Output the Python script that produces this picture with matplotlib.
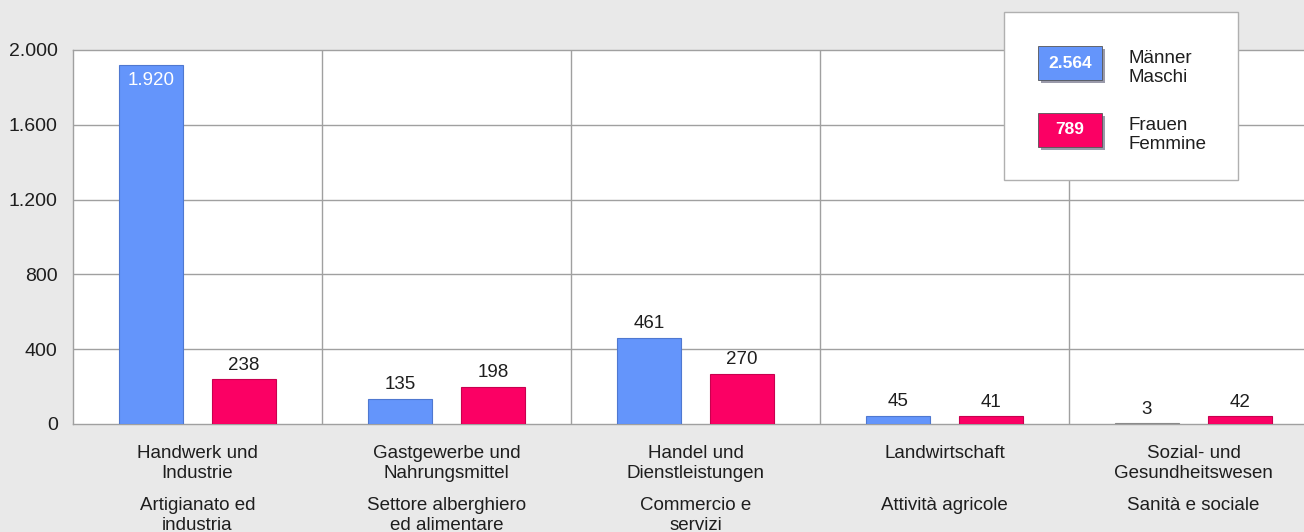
import matplotlib
matplotlib.use("Agg")
import matplotlib.pyplot as plt
from matplotlib.patches import Rectangle
import numpy as np

plt.rcParams['font.family'] = ['Liberation Sans', 'DejaVu Sans']

categories_de = ["Handwerk und\nIndustrie", "Gastgewerbe und\nNahrungsmittel",
                 "Handel und\nDienstleistungen", "Landwirtschaft",
                 "Sozial- und\nGesundheitswesen"]
categories_it = ["Artigianato ed\nindustria", "Settore alberghiero\ned alimentare",
                 "Commercio e\nservizi", "Attività agricole", "Sanità e sociale"]
maschi = [1920, 135, 461, 45, 3]
femmine = [238, 198, 270, 41, 42]
series_names = ["Männer\nMaschi", "Frauen\nFemmine"]
totals = ["2.564", "789"]
yticks = [0, 400, 800, 1200, 1600, 2000]

BLUE = '#6495fb'
RED = '#fb0064'
BG = '#e9e9e9'
GRID = '#a0a0a0'
TXT = '#1e1e1e'
FS = 13.5

def fmt(v):
    return f"{v:,}".replace(",", ".")

fig = plt.figure(figsize=(13.04, 5.32), dpi=100, facecolor=BG)
ax = fig.add_axes([73/1304, 108/532, 1 - 73/1304, 374/532])
ax.set_facecolor('white')

x = np.arange(len(maschi)) + 0.5
off = 0.187
w = 0.257
bm = ax.bar(x - off, maschi, w, color=BLUE, edgecolor='#4f78d0', linewidth=0.8, zorder=3)
bf = ax.bar(x + off, femmine, w, color=RED, edgecolor='#c8004f', linewidth=0.8, zorder=3)
# the tiny bar shows as a grey sliver
bm[4].set_color('#8a8a8a')

for xi, v in zip(x - off, maschi):
    if v > 1000:
        ax.annotate(fmt(v), (xi, v), xytext=(0, -5), textcoords='offset points',
                    ha='center', va='top', color='white', fontsize=FS, zorder=4)
    else:
        ax.annotate(fmt(v), (xi, v), xytext=(0, 4), textcoords='offset points',
                    ha='center', va='bottom', color=TXT, fontsize=FS, zorder=4)
for xi, v in zip(x + off, femmine):
    ax.annotate(fmt(v), (xi, v), xytext=(0, 4), textcoords='offset points',
                ha='center', va='bottom', color=TXT, fontsize=FS, zorder=4)

ax.set_xlim(0, 1231/249)
ax.set_ylim(0, 2000)
ax.set_yticks(yticks)
ax.set_yticklabels([fmt(t) for t in yticks], fontsize=FS + 0.5, color=TXT)
ax.tick_params(axis='y', length=0, pad=11)
ax.set_xticks([])
for t in yticks[1:-1]:
    ax.axhline(t, color=GRID, lw=1, zorder=1)
for b in range(1, len(maschi)):
    ax.axvline(b, color=GRID, lw=1, zorder=1)
for s in ['top', 'left', 'bottom']:
    ax.spines[s].set_color(GRID)
    ax.spines[s].set_linewidth(1)
ax.spines['right'].set_visible(False)

for xi, de, it in zip(x, categories_de, categories_it):
    ax.annotate(de, (xi, 0), xycoords=('data', 'axes fraction'), xytext=(0, -15),
                textcoords='offset points', ha='center', va='top', fontsize=FS,
                color=TXT, linespacing=1.22, annotation_clip=False)
    ax.annotate(it, (xi, 0), xycoords=('data', 'axes fraction'), xytext=(0, -52.5),
                textcoords='offset points', ha='center', va='top', fontsize=FS,
                color=TXT, linespacing=1.22, annotation_clip=False)

# legend box
W, H = 1304, 532
fig.patches.append(Rectangle((1004/W, 1 - 180/H), 234/W, 168/H, transform=fig.transFigure,
                             facecolor='white', edgecolor='#b0b0b0', lw=1, zorder=5))
for i, (name, tot, col) in enumerate(zip(series_names, totals, [BLUE, RED])):
    top = 46 + i * 67
    fig.patches.append(Rectangle((1041/W, 1 - (top + 37)/H), 64/W, 34/H, transform=fig.transFigure,
                                 facecolor='#9a9aaa', edgecolor='none', zorder=5.5))
    fig.patches.append(Rectangle((1038/W, 1 - (top + 34)/H), 64/W, 34/H, transform=fig.transFigure,
                                 facecolor=col, edgecolor='#555555', lw=0.6, zorder=6))
    fig.text(1070/W, 1 - (top + 17)/H, tot, ha='center', va='center', color='white',
             fontsize=12.5, fontweight='bold', zorder=7)
    fig.text(1129/W, 1 - (top + 22)/H, name, ha='left', va='center', color=TXT,
             fontsize=FS, linespacing=1.22, zorder=7)

fig.savefig("out.png", dpi=100, facecolor=BG)
